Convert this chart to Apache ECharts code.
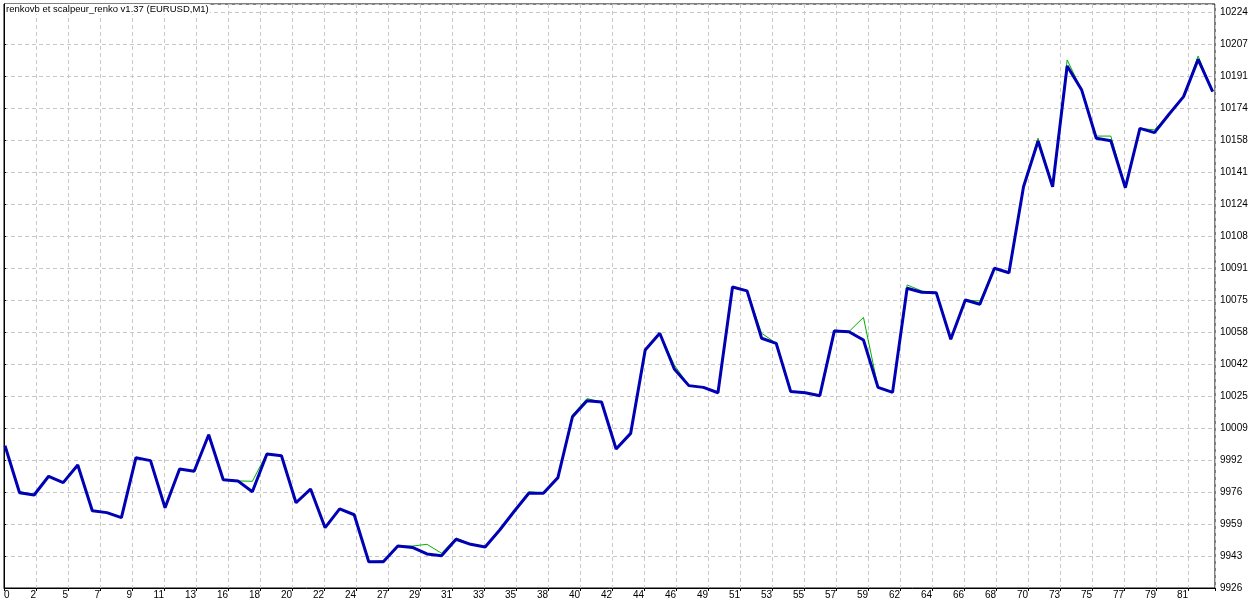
<!DOCTYPE html>
<html><head><meta charset="utf-8">
<script src="https://cdn.jsdelivr.net/npm/echarts@6/dist/echarts.min.js"></script>
<style>html,body{margin:0;padding:0;background:#fff}#c{width:1260px;height:605px}</style>
</head><body><div id="c"></div>
<script>
const chartTitle = 'renkovb et scalpeur_renko v1.37 (EURUSD,M1)';
const xTickLabels = ['0','2','5','7','9','11','13','16','18','20','22','24','27','29','31','33','35','38','40','42','44','46','49','51','53','55','57','59','62','64','66','68','70','73','75','77','79','81'];
const yTickLabels = ['9926','9943','9959','9976','9992','10009','10025','10042','10058','10075','10091','10108','10124','10141','10158','10174','10191','10207','10224'];
const blueValues = [9999.6,9975.3,9974.1,9983.8,9980.5,9989.6,9966.0,9965.0,9962.4,9993.4,
  9991.9,9967.5,9987.6,9986.4,10005.3,9982.0,9981.4,9975.8,9995.3,9994.4,
  9970.1,9977.2,9957.2,9966.9,9963.9,9939.6,9939.6,9947.7,9947.0,9943.6,
  9942.7,9951.2,9948.6,9947.2,9956.0,9965.7,9975.0,9975.0,9983.1,10014.6,
  10022.9,10022.2,9997.9,10006.0,10049.1,10057.8,10039.3,10030.7,10029.8,10027.0,
  10081.7,10079.7,10055.2,10052.6,10027.6,10027.0,10025.5,10059.0,10058.6,10054.3,
  10029.8,10027.2,10081.1,10079.0,10078.8,10054.7,10075.0,10072.8,10091.4,10089.1,
  10133.6,10157.3,10133.6,10196.1,10183.6,10158.7,10157.4,10133.1,10163.8,10161.6,
  10171.1,10180.2,10199.5,10182.8];
const greenValues = [9999.6,9976.0,9974.1,9983.8,9980.5,9989.6,9966.0,9965.0,9962.4,9993.4,
  9991.9,9967.5,9987.6,9986.4,10005.3,9982.0,9981.4,9981.2,9995.7,9994.4,
  9970.1,9977.2,9957.2,9966.9,9963.9,9939.6,9940.1,9947.7,9947.7,9948.6,
  9944.0,9951.9,9948.6,9947.2,9956.0,9965.7,9975.9,9975.0,9983.1,10015.5,
  10024.0,10022.2,9997.9,10006.0,10049.1,10057.8,10041.4,10030.7,10029.8,10027.0,
  10081.7,10079.7,10057.8,10052.6,10027.6,10027.0,10025.5,10059.5,10058.6,10066.0,
  10029.8,10027.2,10082.8,10079.7,10078.8,10054.7,10075.0,10074.5,10091.4,10089.1,
  10133.6,10158.7,10133.6,10199.2,10183.6,10159.8,10159.8,10133.1,10163.8,10163.0,
  10171.1,10180.2,10201.2,10182.8];

const chart = echarts.init(document.getElementById('c'), null, {renderer: 'canvas'});
const font = 'Liberation Sans';
const gridLine = {show: true, lineStyle: {color: '#c8c8c8', type: [4, 3], width: 1}};
chart.setOption({
  animation: false,
  backgroundColor: '#ffffff',
  title: {
    text: chartTitle, left: 5, top: 4, padding: [0, 1], backgroundColor: '#ffffff',
    textStyle: {fontFamily: font, fontSize: 9.5, fontWeight: 'normal', color: '#000'}
  },
  grid: {left: 4, right: 45, top: 4, bottom: 17, show: true, borderColor: '#000', borderWidth: 1, backgroundColor: 'transparent'},
  xAxis: [
    {type: 'value', min: -0.0687, max: 83.16, show: false},
    {type: 'value', min: 0, max: 1211 / 32, interval: 1, position: 'bottom',
      axisLine: {show: true, lineStyle: {color: '#000', width: 1}},
      axisTick: {show: true, length: 3, lineStyle: {color: '#000'}},
      axisLabel: {show: true, margin: 2, align: 'right', alignMinLabel: 'left', color: '#000',
        fontFamily: font, fontSize: 10,
        formatter: v => { const k = Math.round(v); return Math.abs(v - k) < 1e-6 && xTickLabels[k] !== undefined ? xTickLabels[k] : ''; }},
      splitLine: gridLine}
  ],
  yAxis: [
    {type: 'value', min: 9926, max: 9926 + 18.25 * (298 / 18), show: false},
    {type: 'value', min: 0, max: 18.25, interval: 1, position: 'right',
      axisLine: {show: true, lineStyle: {color: '#000', width: 1}},
      axisTick: {show: true, length: 2, lineStyle: {color: '#000'}},
      axisLabel: {show: true, margin: 5, color: '#000', fontFamily: font, fontSize: 10,
        formatter: v => { const k = Math.round(v); return Math.abs(v - k) < 1e-6 && yTickLabels[k] !== undefined ? yTickLabels[k] : ''; }},
      splitLine: gridLine}
  ],
  series: [
    {type: 'line', name: 'green', xAxisIndex: 0, yAxisIndex: 0, data: greenValues.map((v, i) => [i, v]),
      symbol: 'none', lineStyle: {color: '#00b000', width: 1}, z: 2},
    {type: 'line', name: 'blue', xAxisIndex: 0, yAxisIndex: 0, data: blueValues.map((v, i) => [i, v]),
      symbol: 'none', lineStyle: {color: '#0000b4', width: 3}, z: 3}
  ]
});
</script></body></html>
